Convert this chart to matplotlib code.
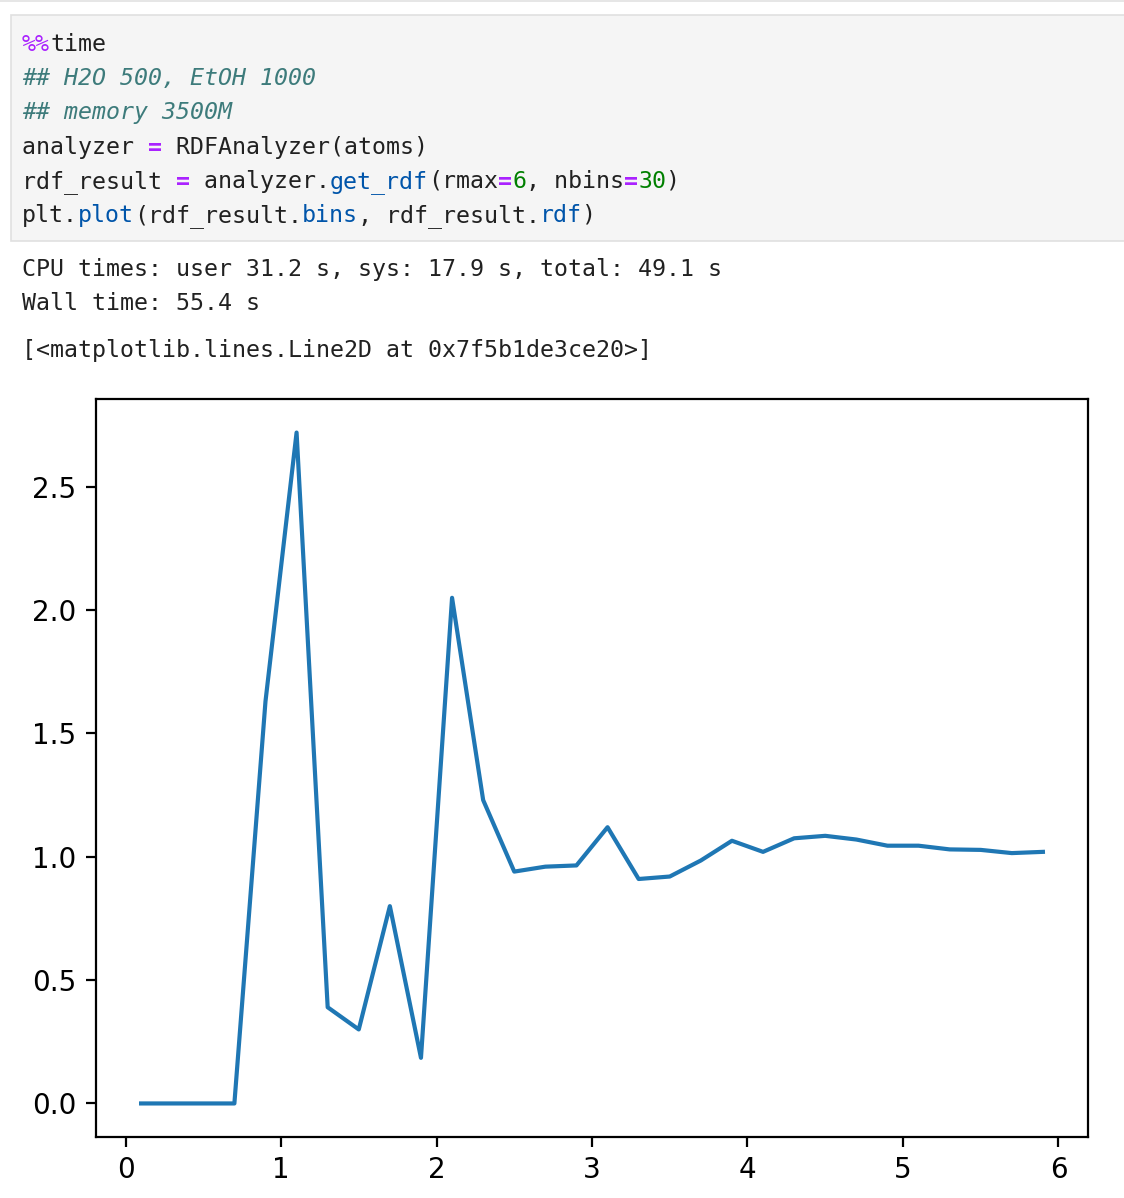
import matplotlib
matplotlib.use("Agg")
import matplotlib.pyplot as plt
from matplotlib.patches import Rectangle

W, H = 1124, 1198

# rdf data
bins = [0.1, 0.3, 0.5, 0.7, 0.9, 1.1, 1.3, 1.5, 1.7, 1.9,
        2.1, 2.3, 2.5, 2.7, 2.9, 3.1, 3.3, 3.5, 3.7, 3.9,
        4.1, 4.3, 4.5, 4.7, 4.9, 5.1, 5.3, 5.5, 5.7, 5.9]
rdf = [0.0, 0.0, 0.0, 0.0, 1.63, 2.72, 0.39, 0.30, 0.80, 0.185,
       2.05, 1.23, 0.94, 0.96, 0.965, 1.12, 0.91, 0.92, 0.985, 1.065,
       1.02, 1.075, 1.085, 1.07, 1.045, 1.045, 1.03, 1.028, 1.015, 1.02]
xticks = [0, 1, 2, 3, 4, 5, 6]
yticks = [0.0, 0.5, 1.0, 1.5, 2.0, 2.5]

# notebook cell text
BLACK = "#212121"
PURPLE = "#aa22ff"
TEAL = "#3d7b7b"
BLUE = "#0055aa"
GREEN = "#008000"
code_lines = [
    [("%%", PURPLE, "normal", "normal"), ("time", BLACK, "normal", "normal")],
    [("## H2O 500, EtOH 1000", TEAL, "italic", "normal")],
    [("## memory 3500M", TEAL, "italic", "normal")],
    [("analyzer ", BLACK, "normal", "normal"), ("=", PURPLE, "normal", "bold"),
     (" RDFAnalyzer(atoms)", BLACK, "normal", "normal")],
    [("rdf_result ", BLACK, "normal", "normal"), ("=", PURPLE, "normal", "bold"),
     (" analyzer.", BLACK, "normal", "normal"), ("get_rdf", BLUE, "normal", "normal"),
     ("(rmax", BLACK, "normal", "normal"), ("=", PURPLE, "normal", "bold"),
     ("6", GREEN, "normal", "normal"), (", nbins", BLACK, "normal", "normal"),
     ("=", PURPLE, "normal", "bold"), ("30", GREEN, "normal", "normal"),
     (")", BLACK, "normal", "normal")],
    [("plt.", BLACK, "normal", "normal"), ("plot", BLUE, "normal", "normal"),
     ("(rdf_result.", BLACK, "normal", "normal"), ("bins", BLUE, "normal", "normal"),
     (", rdf_result.", BLACK, "normal", "normal"), ("rdf", BLUE, "normal", "normal"),
     (")", BLACK, "normal", "normal")],
]
code_baselines = [51, 85, 119, 154, 188, 222]
out_lines = ["CPU times: user 31.2 s, sys: 17.9 s, total: 49.1 s",
             "Wall time: 55.4 s",
             "[<matplotlib.lines.Line2D at 0x7f5b1de3ce20>]"]
out_baselines = [276, 310, 357]

fig = plt.figure(figsize=(W / 100, H / 100), dpi=100)
fig.patch.set_facecolor("white")

def fx(x):
    return x / W

def fy(y):
    return 1 - y / H

# faint border of the cell above and the code cell box
fig.add_artist(Rectangle((0, fy(2)), 1, 2 / H, transform=fig.transFigure,
                         facecolor="#e6e6e6", edgecolor="none"))
fig.add_artist(Rectangle((fx(11), fy(241)), fx(1124 - 11) + 0.01, 226 / H,
                         transform=fig.transFigure, facecolor="#f5f5f5",
                         edgecolor="#e0e0e0", linewidth=1.2))

CHAR = 14.0  # px per monospace char
mono = "DejaVu Sans Mono"
fs = 16.75
x0 = 22
for line, base in zip(code_lines, code_baselines):
    col = 0
    for text, color, style, weight in line:
        fig.text(fx(x0 + col * CHAR), fy(base), text, color=color, fontstyle=style,
                 fontweight=weight, family=mono, fontsize=fs, va="baseline", ha="left")
        col += len(text)

for text, base in zip(out_lines, out_baselines):
    fig.text(fx(x0), fy(base), text, color=BLACK, family=mono, fontsize=fs,
             va="baseline", ha="left")

# the plot itself
ax = fig.add_axes([fx(96), fy(1137), fx(1088 - 96), (1137 - 399) / H])
ax.plot(bins, rdf, color="#1f77b4", linewidth=3.0)
ax.set_xticks(xticks)
ax.set_yticks(yticks)
ax.set_xticklabels([str(t) for t in xticks])
ax.set_yticklabels(["%.1f" % t for t in yticks])
ax.tick_params(labelsize=20, length=7, width=1.6, pad=7, colors="black")
for s in ax.spines.values():
    s.set_linewidth(1.6)

fig.savefig("out.png", dpi=100)
